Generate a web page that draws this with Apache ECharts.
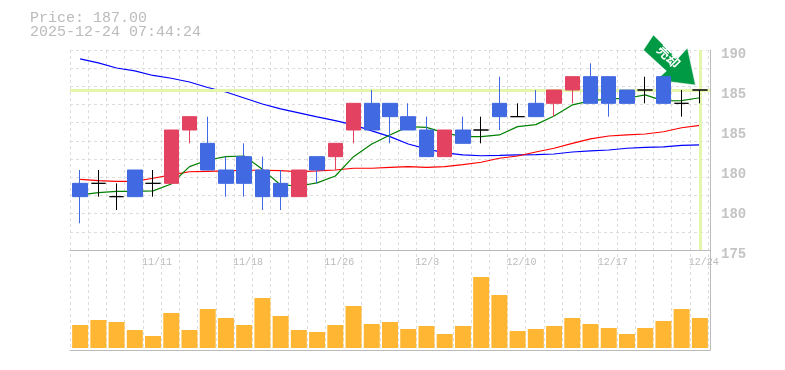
<!DOCTYPE html>
<html><head><meta charset="utf-8">
<style>html,body{margin:0;padding:0;background:#fff}#c{width:785px;height:370px}</style>
<script src="https://cdn.jsdelivr.net/npm/echarts@6/dist/echarts.min.js"></script>
</head><body><div id="c"></div>
<script>
const categories=['11/5','11/6','11/7','11/10','11/11','11/12','11/13','11/14','11/17','11/18','11/19','11/20','11/21','11/25','11/26','11/27','11/28','12/1','12/2','12/3','12/4','12/5','12/8','12/9','12/10','12/11','12/12','12/15','12/16','12/17','12/18','12/19','12/22','12/23','12/24'];
const dateTicks=['11/11','11/18','11/26','12/3','12/10','12/17','12/24'];
const priceTicks=['175','180','180','185','185','190'];
// [open, close, low, high]
const ohlc=[
[180,179,177,181],[180,180,179,181],[179,179,178,180],[181,179,179,181],[180,180,179,181],
[180,184,180,184],[184,185,183,185],[183,181,181,185],[181,180,179,182],[182,180,179,183],
[181,179,178,182],[180,179,178,181],[179,181,179,181],[182,181,180,182],[182,183,181,183],
[184,186,183,186],[186,184,184,187],[186,185,183,186],[185,184,184,186],[184,182,182,185],
[182,184,182,184],[184,183,183,185],[184,184,183,185],[186,185,184,188],[185,185,185,186],
[186,185,185,187],[186,187,185,187],[187,188,186,188],[188,186,186,189],[188,186,185,188],
[187,186,186,187],[187,187,186,188],[188,186,186,188],[186,186,185,187],[187,187,186,187]];
const maShort=[179.13,179.3,179.4,179.4,179.43,179.95,181.25,181.75,182,182.05,181.05,179.88,179.8,180.03,180.55,182,182.95,183.63,184.25,184.2,183.78,183.5,183.5,183.63,184.25,184.4,185.05,185.88,186.18,186.33,186.38,186.63,186.18,186.2,186.42];
const maMid=[180.3,180.2,180.15,180.15,180.38,180.63,180.87,180.9,180.93,180.98,180.98,180.95,180.87,180.93,181,181.13,181.13,181.2,181.25,181.2,181.25,181.4,181.58,181.88,182.05,182.35,182.63,183,183.33,183.55,183.63,183.7,183.87,184.17,184.35];
const maLong=[189.33,189.03,188.65,188.43,188.09,187.88,187.6,187.19,186.85,186.4,185.95,185.58,185.28,184.98,184.7,184.38,183.93,183.5,182.95,182.58,182.28,182.13,182.07,182.09,182.13,182.15,182.2,182.35,182.43,182.5,182.63,182.69,182.73,182.84,182.88];
const volumes=[23,28,26,18,12,35,18,39,30,23,50,32,18,16,23,42,24,26,19,22,14,22,71,53,17,19,22,30,24,20,14,20,27,39,30];
const currentPrice=187, currentDate='12/24', signalDate='12/22', signalLevel=189.25, signalText='売却';

const boundaries=categories.map(c=>dateTicks.includes(c)?c:'').concat(['']);
const grey='#bbbbbb', gridC='#dddddd', mono='"Liberation Mono",monospace';
const dash={show:true,interval:0,lineStyle:{color:gridC,type:[3,3],width:1}};
const off={axisLine:{show:false},axisTick:{show:false},axisLabel:{show:false},splitLine:{show:false}};
const solid={show:true,onZero:false,lineStyle:{color:grey,width:1}};
const frameX=(gridIndex)=>({type:'category',gridIndex,data:categories,position:'bottom',...off,axisLine:solid});
const plainX=(gridIndex)=>({type:'category',gridIndex,data:categories,boundaryGap:true,...off});
const chart=echarts.init(document.getElementById('c'),null,{renderer:'canvas'});
const maLine=(name,data,color)=>({name,type:'line',data,xAxisIndex:0,yAxisIndex:0,symbol:'none',silent:true,z:4,animation:false,lineStyle:{color,width:1.2}});
chart.setOption({
 animation:false,backgroundColor:'#fff',
 title:{text:'Price: 187.00\n2025-12-24 07:44:24',left:25,top:6,textStyle:{fontFamily:mono,fontSize:15,lineHeight:14,fontWeight:'normal',color:'#bbbbbb'}},
 grid:[
  {left:71,top:50,width:638,height:200},   // 0 price marks
  {left:71,top:250,width:638,height:100},  // 1 volume marks
  {left:70,top:50,width:640,height:200},   // 2 price frame
  {left:70,top:250,width:640,height:100},  // 3 volume frame
  {left:70,top:50,width:638,height:300},   // 4 vertical grid lines
  {left:69,top:250,width:638,height:100},  // 5 date labels
  {left:70,top:54,width:640,height:200}    // 6 price labels
 ],
 xAxis:[
  plainX(0),
  plainX(1),
  frameX(2),
  frameX(3),
  {...plainX(4),splitLine:dash},
  {type:'category',gridIndex:5,data:boundaries,boundaryGap:false,position:'top',axisLine:{show:false,onZero:false},axisTick:{show:false},splitLine:{show:false},
   axisLabel:{show:true,inside:true,interval:0,align:'left',margin:7,hideOverlap:false,fontFamily:mono,fontSize:10,color:'#bbbbbb',showMinLabel:true,showMaxLabel:true}},
  plainX(6)
 ],
 yAxis:[
  {type:'value',gridIndex:0,min:175,max:190,...off},
  {type:'value',gridIndex:1,min:-2,max:98,...off},
  {type:'value',gridIndex:2,min:0,max:11,interval:1,position:'right',axisLine:solid,axisTick:{show:false},axisLabel:{show:false},splitLine:dash},
  {type:'value',gridIndex:3,min:0,max:1,position:'right',...off,axisLine:solid},
  {type:'value',gridIndex:4,min:0,max:1,...off},
  {type:'value',gridIndex:5,min:0,max:1,...off},
  {type:'category',gridIndex:6,data:priceTicks,boundaryGap:false,position:'right',axisLine:{show:false},axisTick:{show:false},splitLine:{show:false},
   axisLabel:{show:true,interval:0,margin:11,fontFamily:mono,fontSize:14,fontWeight:'bold',color:'#c4c4c4'}},
  {type:'value',gridIndex:2,min:175,max:190,...off}
 ],
 series:[
  {type:'line',data:[],xAxisIndex:2,yAxisIndex:7,z:2,silent:true,
   markLine:{silent:true,symbol:'none',label:{show:false},animation:false,lineStyle:{color:'#e4f5ac',type:'solid',width:3},data:[{yAxis:currentPrice}]}},
  {type:'line',data:[],xAxisIndex:0,yAxisIndex:0,z:2,silent:true,
   markLine:{silent:true,symbol:'none',label:{show:false},animation:false,lineStyle:{color:'#e4f5ac',type:'solid',width:3},data:[{xAxis:currentDate}]}},
  maLine('long',maLong,'#0000ff'),
  maLine('mid',maMid,'#ff0000'),
  maLine('short',maShort,'#008000'),
  {type:'candlestick',data:ohlc,xAxisIndex:0,yAxisIndex:0,barWidth:15,z:5,silent:true,
   itemStyle:{color:'#E34260',color0:'#4169E1',borderColor:'#E34260',borderColor0:'#4169E1',borderColorDoji:'#000000',borderWidth:1}},
  {type:'line',data:[],xAxisIndex:0,yAxisIndex:0,z:7,silent:true,
   markPoint:{silent:true,animation:false,data:[{coord:[signalDate,signalLevel],
     symbol:'path://M10 0L0 15L23 36L13 45L52 50L44 13L34 24Z',symbolSize:[52,50],symbolOffset:[6,0],
     itemStyle:{color:'#009944',borderColor:'#ffffff',borderWidth:0.5},
     label:{show:true,formatter:signalText,position:'inside',rotate:-45,offset:[-3,-2],color:'#fff',fontSize:13,fontWeight:'bold',fontFamily:'"Noto Sans CJK JP"'}}]}},
  {type:'bar',data:volumes,xAxisIndex:1,yAxisIndex:1,barWidth:16,silent:true,itemStyle:{color:'#FFB733'},z:3}
 ]
});
</script></body></html>
